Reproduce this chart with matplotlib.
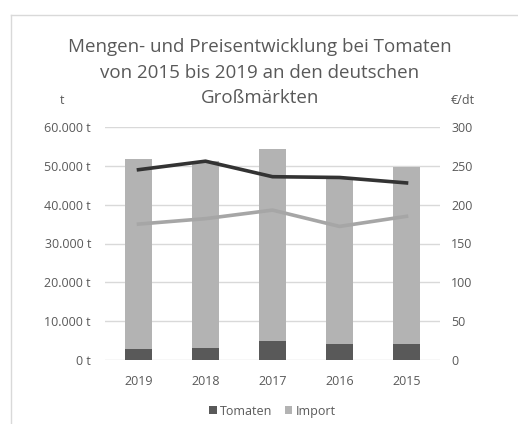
import matplotlib
matplotlib.use("Agg")
import matplotlib.pyplot as plt
from matplotlib.lines import Line2D
import numpy as np

plt.rcParams['font.family'] = ['Open Sans', 'DejaVu Sans']

# data
years = ["2019", "2018", "2017", "2016", "2015"]
tomaten = [2800, 3000, 4800, 4000, 4200]
imports = [48900, 48200, 49500, 43100, 45600]
preis_dunkel = [245, 256, 236, 235, 228]
preis_hell = [175, 182, 193, 172, 185]
left_ticks = [0, 10000, 20000, 30000, 40000, 50000, 60000]
left_labels = ["0 t", "10.000 t", "20.000 t", "30.000 t", "40.000 t", "50.000 t", "60.000 t"]
right_ticks = [0, 50, 100, 150, 200, 250, 300]

W, H = 518, 424
fig = plt.figure(figsize=(W / 100, H / 100), dpi=100)

txt = '#595959'
ax = fig.add_axes([105 / W, (H - 360) / H, 335 / W, 233 / H])
x = np.arange(len(years))

ax.bar(x, tomaten, width=0.4, color='#595959', label='Tomaten', zorder=2)
ax.bar(x, imports, width=0.4, bottom=tomaten, color='#b3b3b3', label='Import', zorder=2)

ax.set_xlim(-0.5, len(years) - 0.5)
ax.set_ylim(0, 60000)
ax.set_yticks(left_ticks)
ax.set_yticklabels(left_labels)
ax.set_xticks(x)
ax.set_xticklabels(years)
ax.grid(axis='y', color='#d9d9d9', linewidth=1, zorder=0)
ax.set_axisbelow(True)
for s in ax.spines.values():
    s.set_visible(False)
ax.tick_params(length=0, colors=txt, labelsize=9)
ax.tick_params(axis='y', pad=10)
ax.tick_params(axis='x', pad=11)

ax2 = ax.twinx()
ax2.plot(x, preis_dunkel, color='#333333', linewidth=2.6, zorder=3)
ax2.plot(x, preis_hell, color='#a6a6a6', linewidth=2.6, zorder=3)
ax2.set_ylim(0, 300)
ax2.set_yticks(right_ticks)
for s in ax2.spines.values():
    s.set_visible(False)
ax2.tick_params(length=0, colors=txt, labelsize=9, pad=8)

# title and axis units
title = ["Mengen- und Preisentwicklung bei Tomaten",
         "von 2015 bis 2019 an den deutschen",
         "Großmärkten"]
for i, line in enumerate(title):
    fig.text(260 / W, 1 - (47 + i * 25.5) / H, line, ha='center', va='center',
             fontsize=13.5, color=txt)
fig.text(62 / W, 1 - 100 / H, "t", ha='center', va='center', fontsize=9, color=txt)
fig.text(463 / W, 1 - 100 / H, "€/dt", ha='center', va='center', fontsize=9, color=txt)

ax.legend(loc='center', bbox_to_anchor=(0.5, -0.22), ncol=2, frameon=False,
          fontsize=9, labelcolor=txt, handlelength=0.6, handleheight=0.6,
          handletextpad=0.25, columnspacing=1.0)

# chart frame
fig.add_artist(Line2D([11 / W, 1], [1 - 15 / H, 1 - 15 / H], color='#d9d9d9', linewidth=1))
fig.add_artist(Line2D([11 / W, 11 / W], [0, 1 - 15 / H], color='#d9d9d9', linewidth=1))

fig.savefig("out.png", dpi=100)
